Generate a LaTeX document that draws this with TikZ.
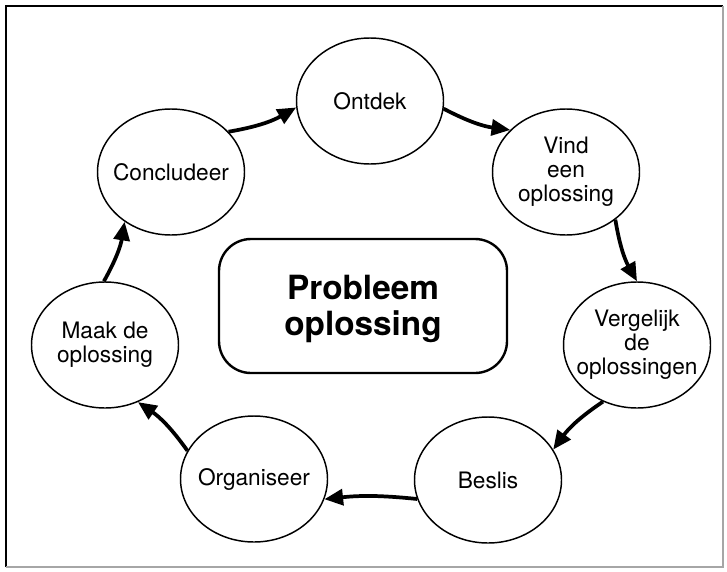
\documentclass[tikz,border=0pt]{standalone}
\usepackage{fontspec}
\setmainfont{TeX Gyre Heros}
\usetikzlibrary{arrows.meta,shapes.geometric}

\tikzset{every picture/.style={line width=0.75pt}}
\tikzset{
  stage/.style={draw, ellipse, line width=1.1pt, minimum width=110.25pt, minimum height=94.5pt, inner sep=0pt},
  stagetext/.style={inner sep=0pt, align=center, font=\fontsize{17}{18}\selectfont},
  flow/.style={line width=2.8pt, -{Triangle[length=14pt,width=12pt]}},
}

\begin{document}
\begin{tikzpicture}[x=0.75pt,y=0.75pt,yscale=-1,xscale=1]
        \useasboundingbox (0,0) rectangle (727,571);

        %Shape: Frame
        \draw [line width=2pt] (6,567) -- (6,6) -- (723,6) ;
        \draw [line width=0.8pt, black!35] (723,6) -- (723,567) -- (6,567) ;

        %Shape: Rounded Rectangle
        \node [draw, line width=1.8pt, rounded corners=24pt, minimum width=216pt, minimum height=100.5pt] (probleem) at (363,306) {};
        % Text Node
        \node [inner sep=0pt, align=center, font=\fontsize{25}{27}\selectfont\bfseries] (probleemtxt) at (363,309) {Probleem\\oplossing};

        %Shape: Ellipse
        \node [stage] (ontdek) at (370,101) {};
        \node [stage] (vind) at (566,172) {};
        \node [stage] (vergelijk) at (637,345) {};
        \node [stage] (beslis) at (488,480) {};
        \node [stage] (organiseer) at (254,479) {};
        \node [stage] (maak) at (105,345) {};
        \node [stage] (concludeer) at (171,172) {};

        % Text Node
        \node [stagetext] (ontdektxt) at (ontdek) {Ontdek};
        \node [stagetext] (vindtxt) at (vind) {Vind\\een\\oplossing};
        \node [stagetext] (vergelijktxt) at (vergelijk) {Vergelijk\\de\\oplossingen};
        \node [stagetext] (beslistxt) at (beslis) {Beslis};
        \node [stagetext] (organiseertxt) at (organiseer) {Organiseer};
        \node [stagetext] (maaktxt) at (maak) {Maak de\\oplossing};
        \node [stagetext] (concludeertxt) at (concludeer) {Concludeer};

        %Curve Lines
        \draw [flow] (concludeer.35) to [bend left=10] (ontdek.185) ;
        \draw [flow] (ontdek.354) to [bend left=10] (vind.143) ;
        \draw [flow] (vind.316) to [bend left=10] (vergelijk.90) ;
        \draw [flow] (vergelijk.239) to [bend left=10] (beslis.25) ;
        \draw [flow] (beslis.195) to [bend left=6] (organiseer.344) ;
        \draw [flow] (organiseer.157) to [bend left=10] (maak.300) ;
        \draw [flow] (maak.91) to [bend left=10] (concludeer.227) ;
\end{tikzpicture}
\end{document}
